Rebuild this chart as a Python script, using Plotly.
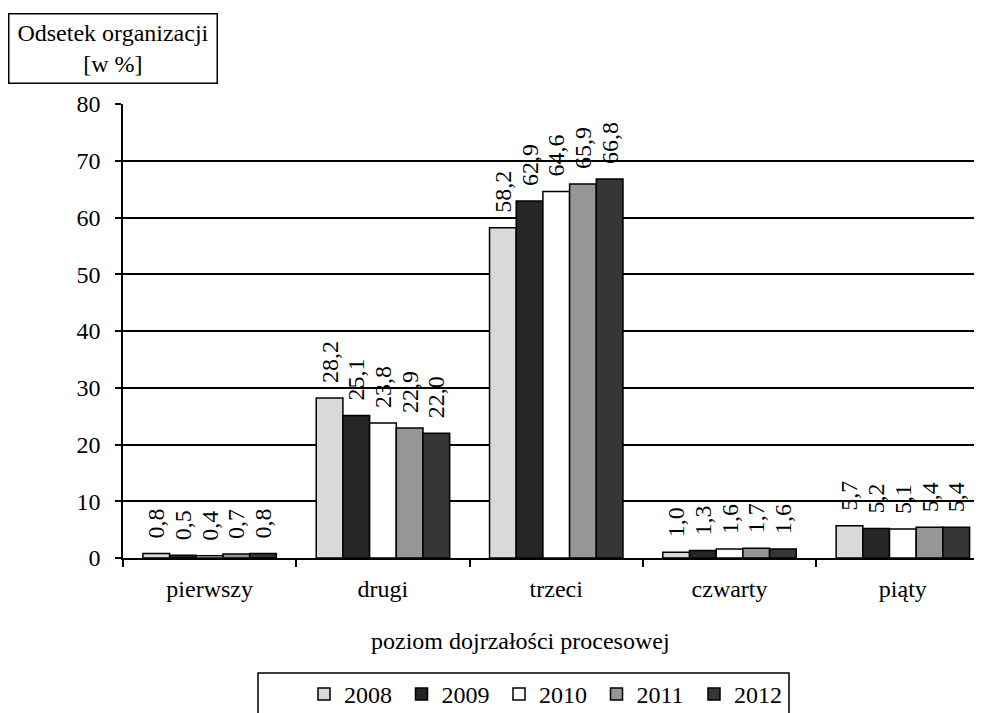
import plotly.graph_objects as go

categories = ["pierwszy", "drugi", "trzeci", "czwarty", "piąty"]
years = ["2008", "2009", "2010", "2011", "2012"]
v2008 = [0.8, 28.2, 58.2, 1.0, 5.7]
v2009 = [0.5, 25.1, 62.9, 1.3, 5.2]
v2010 = [0.4, 23.8, 64.6, 1.6, 5.1]
v2011 = [0.7, 22.9, 65.9, 1.7, 5.4]
v2012 = [0.8, 22.0, 66.8, 1.6, 5.4]
series = [v2008, v2009, v2010, v2011, v2012]
colors = ["#d9d9d9", "#262626", "#ffffff", "#969696", "#363636"]

FONT = "Liberation Serif, Times New Roman, serif"
FS = 24
OFF = 8  # page body margin
W, H = 982 - OFF, 713 - OFF
L, R, T = 123 - OFF, 0, 104 - OFF
B = H - (558 - OFF)
pw = W - L - R
ph = H - T - B

fig = go.Figure()
for name, vals, col in zip(years, series, colors):
    fig.add_trace(go.Bar(
        name=name, x=categories, y=vals,
        marker=dict(color=col, line=dict(color="black", width=1.5)),
        text=["\u00a0\u00a0" + f"{v:.1f}".replace(".", ",") for v in vals],
        textposition="outside", textangle=-90, constraintext="none",
        textfont=dict(family=FONT, size=FS, color="black"),
        cliponaxis=False,
    ))

def px(x):
    return (x - OFF - L) / pw

def py(y):
    return (H - B - (y - OFF)) / ph

fig.update_layout(
    width=W, height=H,
    margin=dict(l=L, r=R, t=T, b=B, autoexpand=False),
    paper_bgcolor="white", plot_bgcolor="white",
    font=dict(family=FONT, size=FS, color="black"),
    barmode="group", bargap=0.23, bargroupgap=0,
    showlegend=True,
    legend=dict(orientation="h", x=px(304), xanchor="left", y=py(672), yanchor="top",
                bgcolor="rgba(0,0,0,0)", borderwidth=0,
                entrywidth=52.5, entrywidthmode="pixels",
                font=dict(family=FONT, size=FS, color="black"), traceorder="normal"),
    xaxis=dict(range=[-0.5, -0.5 + pw / 173.3], showline=True, linecolor="black", linewidth=1.5,
               ticks="outside", tickson="boundaries", ticklen=7, tickwidth=1.5, tickcolor="black",
               showgrid=False, ticklabelstandoff=8,
               tickfont=dict(family=FONT, size=FS, color="black")),
    yaxis=dict(range=[0, 80], tickvals=[0, 10, 20, 30, 40, 50, 60, 70, 80],
               showline=True, linecolor="black", linewidth=1.5,
               ticks="outside", ticklen=6, tickwidth=1.5, tickcolor="black",
               showgrid=True, gridcolor="black", gridwidth=1.5, zeroline=False,
               ticklabelstandoff=10,
               tickfont=dict(family=FONT, size=FS, color="black")),
    annotations=[
        dict(text="Odsetek organizacji<br>[w %]", xref="paper", yref="paper",
             x=px(8), xanchor="left", y=py(12.7), yanchor="top",
             showarrow=False, align="center", width=207, height=68,
             bordercolor="black", borderwidth=1.5, borderpad=0,
             font=dict(family=FONT, size=FS, color="black")),
        dict(text="poziom dojrzałości procesowej", xref="paper", yref="paper",
             x=px(520), y=py(641), xanchor="center", yanchor="middle", showarrow=False,
             font=dict(family=FONT, size=FS, color="black")),
    ],
    shapes=[
        dict(type="rect", xref="paper", yref="paper",
             x0=px(258), x1=px(789), y0=py(730), y1=py(673),
             line=dict(color="black", width=1.5), fillcolor="rgba(0,0,0,0)", layer="above"),
    ],
)

fig.write_html("out.html")
